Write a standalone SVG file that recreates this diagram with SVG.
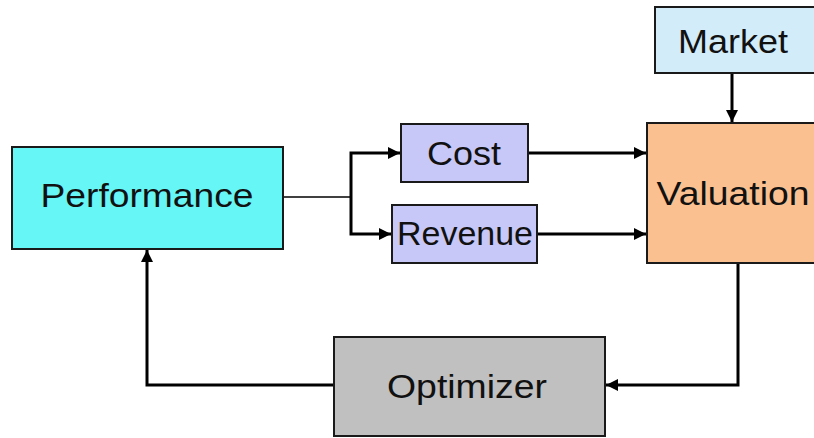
<svg xmlns="http://www.w3.org/2000/svg" width="814" height="438" viewBox="0 0 814 438">
<style>
.box{stroke:#1a1a1a;stroke-width:2}
.lbl{font-family:"Liberation Sans",Arial,sans-serif;font-size:33px;fill:#111;text-anchor:middle}
.ln{fill:none;stroke:#000;stroke-width:3}
.thin{fill:none;stroke:#000;stroke-width:1.6}
</style>
<defs>
<marker id="ah" viewBox="0 0 10 10" refX="10" refY="5" markerWidth="4" markerHeight="4" orient="auto" markerUnits="strokeWidth">
<path d="M0,0 L10,5 L0,10 z" fill="#000"/>
</marker>
</defs>
<rect width="814" height="438" fill="#fff"/>
<g id="connectors">
<path class="thin" d="M283,197 H351"/>
<path class="ln" d="M351,197 V153 H400" marker-end="url(#ah)"/>
<path class="ln" d="M351,197 V234 H391" marker-end="url(#ah)"/>
<path class="ln" d="M528,153 H646" marker-end="url(#ah)"/>
<path class="ln" d="M537,234 H646" marker-end="url(#ah)"/>
<path class="ln" d="M732,73 V122" marker-end="url(#ah)"/>
<path class="ln" d="M738,263 V385 H606" marker-end="url(#ah)"/>
<path class="ln" d="M334,385 H147 V250" marker-end="url(#ah)"/>
</g>
<g id="performance">
<rect class="box" x="12" y="147" width="271" height="102" fill="#66F6F6"/>
<text class="lbl" x="147" y="207" textLength="213" lengthAdjust="spacingAndGlyphs">Performance</text>
</g>
<g id="cost">
<rect class="box" x="401" y="124" width="127" height="58" fill="#C8C8F8"/>
<text class="lbl" x="464" y="165" textLength="74" lengthAdjust="spacingAndGlyphs">Cost</text>
</g>
<g id="revenue">
<rect class="box" x="392" y="205" width="145" height="58" fill="#C8C8F8"/>
<text class="lbl" x="465" y="245" textLength="136" lengthAdjust="spacingAndGlyphs">Revenue</text>
</g>
<g id="market">
<rect class="box" x="655" y="7" width="160" height="66" fill="#D2ECFA"/>
<text class="lbl" x="733" y="53" textLength="110" lengthAdjust="spacingAndGlyphs">Market</text>
</g>
<g id="valuation">
<rect class="box" x="647" y="123" width="170" height="140" fill="#FBC090"/>
<text class="lbl" x="733" y="205" textLength="153" lengthAdjust="spacingAndGlyphs">Valuation</text>
</g>
<g id="optimizer">
<rect class="box" x="334" y="337" width="271" height="99" fill="#C0C0C0"/>
<text class="lbl" x="467" y="398" textLength="160" lengthAdjust="spacingAndGlyphs">Optimizer</text>
</g>
</svg>
